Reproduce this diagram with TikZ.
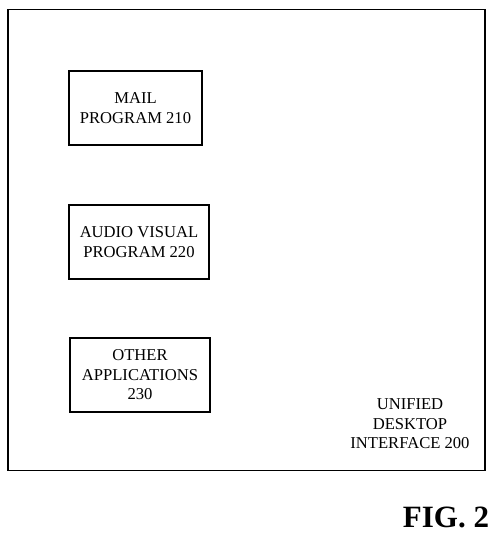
\documentclass[tikz,border=0pt]{standalone}
\usepackage{fontspec}
\setmainfont{Liberation Serif}
\begin{document}
\begin{tikzpicture}[x=1pt,y=-1pt,
  appbox/.style={draw=black,line width=1.2pt,minimum height=74pt,inner sep=0pt},
  lbl/.style={align=center,font=\fontsize{16.6}{19.5}\selectfont,inner sep=0pt}]
\useasboundingbox (0,0) rectangle (494,541);
\node[draw=black,line width=1.3pt,minimum width=477pt,minimum height=461pt,inner sep=0pt] (desk) at (246.5,240) {};
\node[appbox,minimum width=133pt] (mail) at (135.5,108) {};
\node[lbl] (mailt) at (mail.center) {MAIL\\PROGRAM 210};
\node[appbox,minimum width=140pt] (av) at (139,242) {};
\node[lbl] (avt) at (av.center) {AUDIO VISUAL\\PROGRAM 220};
\node[appbox,minimum width=140pt] (oth) at (140,375) {};
\node[lbl] (otht) at (oth.center) {OTHER\\APPLICATIONS\\230};
\node[lbl] (uni) at (410,424) {UNIFIED\\DESKTOP\\INTERFACE 200};
\node[font=\fontsize{31}{36}\selectfont\bfseries,inner sep=0pt] (fig) at (446,517) {FIG. 2};
\end{tikzpicture}
\end{document}
